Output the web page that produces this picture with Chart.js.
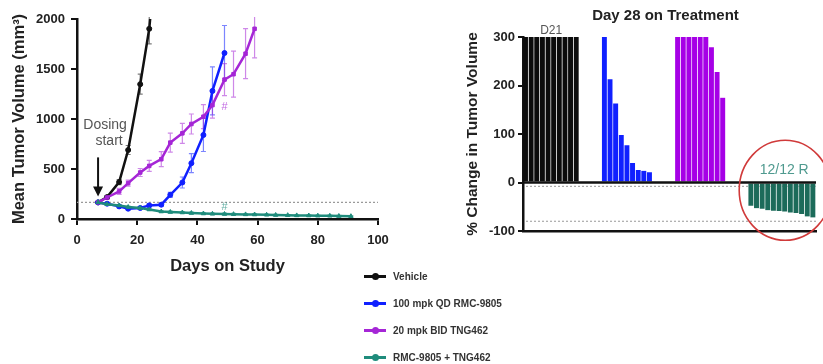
<!DOCTYPE html>
<html>
<head>
<meta charset="utf-8">
<script src="https://cdn.jsdelivr.net/npm/chart.js@4.4.1/dist/chart.umd.min.js"></script>
<style>
  body { margin: 0; background: #fff; width: 823px; height: 364px; overflow: hidden; font-family: "Liberation Sans", Arial, sans-serif; }
  #leftBox { position: absolute; left: 0; top: 0; width: 400px; height: 285px; }
  #rightBox { position: absolute; left: 400px; top: 0; width: 423px; height: 250px; }
  #legend { position: absolute; left: 364px; top: 263px; }
  .item { height: 27px; display: flex; align-items: center; font-size: 10px; font-weight: bold; color: #333; }
  .mark { position: relative; width: 22px; height: 3px; margin-right: 7px; }
  .mark i { position: absolute; left: 8px; top: -2px; width: 7px; height: 7px; border-radius: 50%; }
</style>
</head>
<body>
<div id="leftBox"><canvas id="growth"></canvas></div>
<div id="rightBox"><canvas id="waterfall"></canvas></div>
<div id="legend"></div>
<script>
// ---- growth curves (mean tumor volume, mm3) ----
var seriesNames = ['Vehicle', '100 mpk QD RMC-9805', '20 mpk BID TNG462', 'RMC-9805 + TNG462'];
var seriesColors = ['#111111', '#1020ff', '#a526d6', '#1f8c7c'];
var seriesPoints = ['circle', 'circle', 'rect', 'triangle'];

var vehicleDays = [7, 10, 14, 17, 21, 24, 28];
var vehicleVol  = [166, 219, 369, 690, 1348, 1902, 3200];
var vehicleErr  = [8, 15, 25, 45, 100, 150, 0];

var rmcDays = [7, 10, 14, 17, 21, 24, 28, 31, 35, 38, 42, 45, 49];
var rmcVol  = [166, 153, 126, 103, 110, 136, 143, 242, 365, 558, 840, 1281, 1660];
var rmcErr  = [8, 10, 12, 12, 15, 15, 15, 25, 55, 95, 165, 240, 275];

var tngDays = [7, 10, 14, 17, 21, 24, 28, 31, 35, 38, 42, 45, 49, 52, 56, 59];
var tngVol  = [166, 215, 276, 359, 465, 531, 598, 764, 857, 950, 1023, 1139, 1394, 1448, 1653, 1902];
var tngErr  = [8, 20, 30, 30, 40, 55, 75, 95, 100, 100, 120, 130, 160, 230, 250, 290];

var comboDays = [7, 10, 14, 17, 21, 24, 28, 31, 35, 38, 42, 45, 49, 52, 56, 59, 63, 66, 70, 73, 77, 80, 84, 87, 91];
var comboVol  = [166, 148, 135, 120, 110, 95, 75, 70, 65, 60, 55, 52, 50, 48, 46, 45, 42, 40, 38, 36, 35, 33, 32, 30, 28];
var comboErr  = [8, 10, 10, 10, 10, 10, 8, 8, 8, 8, 8, 8, 8, 8, 8, 8, 6, 6, 6, 6, 6, 6, 6, 6, 6];

var xTicks = [0, 20, 40, 60, 80, 100];
var yTicks = [0, 500, 1000, 1500, 2000];
var baselineVol = 166;
var dosingDay = 7;

// ---- waterfall (% change at day 28) ----
var vehicleChange = [300, 300, 300, 300, 300, 300, 300, 300, 300, 300];
var rmcChange     = [300, 213, 163, 98, 77, 40, 26, 24, 21];
var tngChange     = [300, 300, 300, 300, 300, 300, 279, 228, 175];
var comboChange   = [-48, -53, -54, -57, -58, -59, -60, -62, -63, -65, -70, -72];
var groupStart    = [0, 14, 27, 40];
var slotCount     = 52;
var changeTicks   = [300, 200, 100, 0, -100];
var refLines      = [-8, -80];

var barColors = ['#0c0c0c', '#1020ff', '#a600e6', '#1c6b5a'];

function pts(days, vals) {
  return days.map(function(d, i) { return { x: d, y: vals[i] }; });
}

function alpha(hex, a) {
  var n = parseInt(hex.slice(1), 16);
  return 'rgba(' + (n >> 16) + ',' + ((n >> 8) & 255) + ',' + (n & 255) + ',' + a + ')';
}

var curves = [
  [vehicleDays, vehicleVol, vehicleErr],
  [rmcDays, rmcVol, rmcErr],
  [tngDays, tngVol, tngErr],
  [comboDays, comboVol, comboErr]
];

var lineSets = curves.map(function(c, i) {
  return {
    label: seriesNames[i],
    data: pts(c[0], c[1]),
    errors: c[2],
    borderColor: seriesColors[i],
    backgroundColor: seriesColors[i],
    borderWidth: 2.5,
    pointStyle: seriesPoints[i],
    pointRadius: 2.5,
    pointBorderWidth: 1,
    order: 3 - i
  };
});

var errorBars = {
  id: 'errorBars',
  beforeDatasetsDraw: function(chart) {
    var ctx = chart.ctx, xs = chart.scales.x, ys = chart.scales.y, a = chart.chartArea;
    ctx.save();
    ctx.beginPath();
    ctx.rect(a.left, a.top - 2, a.right - a.left, a.bottom - a.top + 2);
    ctx.clip();
    ctx.lineWidth = 1.2;
    chart.data.datasets.forEach(function(ds) {
      ctx.strokeStyle = alpha(ds.borderColor, 0.55);
      ds.errors.forEach(function(e, j) {
        if (!e) return;
        var p = ds.data[j];
        var x = xs.getPixelForValue(p.x);
        var y1 = ys.getPixelForValue(p.y - e), y2 = ys.getPixelForValue(p.y + e);
        ctx.beginPath();
        ctx.moveTo(x, y1); ctx.lineTo(x, y2);
        ctx.moveTo(x - 2.5, y1); ctx.lineTo(x + 2.5, y1);
        ctx.moveTo(x - 2.5, y2); ctx.lineTo(x + 2.5, y2);
        ctx.stroke();
      });
    });
    ctx.restore();
  }
};

var growthNotes = {
  id: 'growthNotes',
  beforeDatasetsDraw: function(chart) {
    var ctx = chart.ctx, ys = chart.scales.y, a = chart.chartArea;
    var yb = ys.getPixelForValue(baselineVol);
    ctx.save();
    ctx.strokeStyle = '#9a9a9a';
    ctx.lineWidth = 1.2;
    ctx.setLineDash([2, 2]);
    ctx.beginPath();
    ctx.moveTo(a.left, yb); ctx.lineTo(a.right, yb);
    ctx.stroke();
    ctx.restore();
  },
  afterDatasetsDraw: function(chart) {
    var ctx = chart.ctx, xs = chart.scales.x, ys = chart.scales.y;
    var xd = xs.getPixelForValue(dosingDay), yb = ys.getPixelForValue(baselineVol);
    ctx.save();
    // arrow
    ctx.strokeStyle = '#111';
    ctx.fillStyle = '#111';
    ctx.lineWidth = 2;
    ctx.beginPath();
    ctx.moveTo(xd, yb - 45); ctx.lineTo(xd, yb - 12);
    ctx.stroke();
    ctx.beginPath();
    ctx.moveTo(xd - 5, yb - 16); ctx.lineTo(xd + 5, yb - 16); ctx.lineTo(xd, yb - 6);
    ctx.closePath(); ctx.fill();
    // label
    ctx.fillStyle = '#555';
    ctx.font = '14px "Liberation Sans", Arial, sans-serif';
    ctx.textAlign = 'center';
    ctx.textBaseline = 'middle';
    ctx.fillText('Dosing', xd + 7, yb - 77);
    ctx.fillText('start', xd + 11, yb - 61);
    // # marks
    ctx.font = '11px "Liberation Sans", Arial, sans-serif';
    ctx.fillStyle = alpha(seriesColors[2], 0.7);
    ctx.fillText('#', xs.getPixelForValue(49), ys.getPixelForValue(1120));
    ctx.fillStyle = alpha(seriesColors[3], 0.7);
    ctx.fillText('#', xs.getPixelForValue(49), ys.getPixelForValue(120));
    ctx.restore();
  }
};

var boldTick = { family: '"Liberation Sans", Arial, sans-serif', size: 13, weight: 'bold' };
function plain(v) { return String(v); }

new Chart(document.getElementById('growth'), {
  type: 'line',
  data: { datasets: lineSets },
  plugins: [errorBars, growthNotes],
  options: {
    responsive: true,
    maintainAspectRatio: false,
    animation: false,
    layout: { padding: { top: 19, right: 22, left: 2, bottom: 0 } },
    plugins: { legend: { display: false }, tooltip: { enabled: false } },
    scales: {
      x: {
        type: 'linear', min: 0, max: 100,
        afterBuildTicks: function(s) { s.ticks = xTicks.map(function(v) { return { value: v }; }); },
        afterFit: function(s) { s.height = 66; },
        ticks: { color: '#222', font: boldTick, padding: 8, maxRotation: 0, callback: plain },
        grid: { drawOnChartArea: false, color: '#111', lineWidth: 2, tickLength: 6 },
        border: { color: '#111', width: 2.5 },
        title: { display: true, text: 'Days on Study', color: '#222',
                 font: { family: '"Liberation Sans", Arial, sans-serif', size: 16.5, weight: 'bold' },
                 padding: { top: 4, bottom: 9 } }
      },
      y: {
        min: 0, max: 2000,
        afterBuildTicks: function(s) { s.ticks = yTicks.map(function(v) { return { value: v }; }); },
        afterFit: function(s) { s.width = 75; },
        ticks: { color: '#222', font: boldTick, padding: 6, callback: plain },
        grid: { drawOnChartArea: false, color: '#111', lineWidth: 2, tickLength: 6 },
        border: { color: '#111', width: 2.5 },
        title: { display: true, text: 'Mean Tumor Volume (mm³)', color: '#222',
                 font: { family: '"Liberation Sans", Arial, sans-serif', size: 16.5, weight: 'bold' },
                 padding: { top: 8 } }
      }
    }
  }
});

// ---- waterfall ----
var groups = [vehicleChange, rmcChange, tngChange, comboChange];
var slots = [];
for (var k = 0; k < slotCount; k++) slots.push('');

var barSets = groups.map(function(vals, g) {
  var data = slots.map(function() { return null; });
  vals.forEach(function(v, i) { data[groupStart[g] + i] = v; });
  return {
    label: seriesNames[g],
    data: data,
    backgroundColor: barColors[g],
    borderColor: 'rgba(255,255,255,0.35)',
    borderWidth: { right: 1, left: 0, top: 0, bottom: 0 },
    borderSkipped: false,
    grouped: false,
    categoryPercentage: 1,
    barPercentage: 1
  };
});

var waterfallNotes = {
  id: 'waterfallNotes',
  beforeDatasetsDraw: function(chart) {
    var ctx = chart.ctx, ys = chart.scales.y, a = chart.chartArea;
    ctx.save();
    ctx.strokeStyle = '#aaa';
    ctx.lineWidth = 1.2;
    ctx.setLineDash([2, 2]);
    refLines.forEach(function(v) {
      var y = ys.getPixelForValue(v);
      ctx.beginPath(); ctx.moveTo(a.left + 3, y); ctx.lineTo(a.right, y); ctx.stroke();
    });
    ctx.restore();
  },
  afterDatasetsDraw: function(chart) {
    var ctx = chart.ctx, xs = chart.scales.x, ys = chart.scales.y, a = chart.chartArea;
    var y0 = ys.getPixelForValue(0);
    ctx.save();
    ctx.strokeStyle = '#111';
    ctx.lineWidth = 2.5;
    ctx.beginPath(); ctx.moveTo(a.left, y0); ctx.lineTo(a.right, y0); ctx.stroke();
    // title
    ctx.fillStyle = '#222';
    ctx.font = 'bold 15px "Liberation Sans", Arial, sans-serif';
    ctx.textAlign = 'center';
    ctx.textBaseline = 'middle';
    ctx.fillText('Day 28 on Treatment', (a.left + a.right) / 2 - 4, 16);
    // D21
    ctx.font = '12px "Liberation Sans", Arial, sans-serif';
    ctx.fillStyle = '#555';
    var xv = (xs.getPixelForValue(groupStart[0]) + xs.getPixelForValue(groupStart[0] + vehicleChange.length - 1)) / 2;
    ctx.fillText('D21', xv, ys.getPixelForValue(300) - 6);
    // responders
    var xc = (xs.getPixelForValue(groupStart[3]) + xs.getPixelForValue(groupStart[3] + comboChange.length - 1)) / 2;
    ctx.font = '14px "Liberation Sans", Arial, sans-serif';
    ctx.fillStyle = '#4f9a8f';
    ctx.fillText('12/12 R', xc + 2, y0 - 12);
    // circle
    ctx.strokeStyle = '#d03a3a';
    ctx.lineWidth = 1.6;
    ctx.beginPath();
    ctx.ellipse(xc + 3, ys.getPixelForValue(-16), 46, 50, 0, 0, Math.PI * 2);
    ctx.stroke();
    ctx.restore();
  }
};

new Chart(document.getElementById('waterfall'), {
  type: 'bar',
  data: { labels: slots, datasets: barSets },
  plugins: [waterfallNotes],
  options: {
    responsive: true,
    maintainAspectRatio: false,
    animation: false,
    layout: { padding: { top: 37, right: 7, left: 0, bottom: 0 } },
    plugins: { legend: { display: false }, tooltip: { enabled: false } },
    scales: {
      x: {
        ticks: { display: false },
        afterFit: function(s) { s.height = 19; },
        grid: { display: true, drawOnChartArea: false, drawTicks: false },
        border: { color: '#111', width: 2.5 }
      },
      y: {
        min: -100, max: 300,
        afterBuildTicks: function(s) { s.ticks = changeTicks.map(function(v) { return { value: v }; }); },
        afterFit: function(s) { s.width = 123; },
        ticks: { color: '#222', font: boldTick, padding: 3, callback: plain },
        grid: { drawOnChartArea: false, color: '#111', lineWidth: 2, tickLength: 5 },
        border: { color: '#111', width: 2.5 },
        title: { display: true, text: '% Change in Tumor Volume', color: '#222',
                 font: { family: '"Liberation Sans", Arial, sans-serif', size: 15.5, weight: 'bold' },
                 padding: { top: 63 } }
      }
    }
  }
});

// ---- legend ----
var legend = document.getElementById('legend');
seriesNames.forEach(function(name, i) {
  var row = document.createElement('div');
  row.className = 'item';
  var m = document.createElement('span');
  m.className = 'mark';
  m.style.background = seriesColors[i];
  var dot = document.createElement('i');
  dot.style.background = seriesColors[i];
  m.appendChild(dot);
  row.appendChild(m);
  row.appendChild(document.createTextNode(name));
  legend.appendChild(row);
});
</script>
</body>
</html>
